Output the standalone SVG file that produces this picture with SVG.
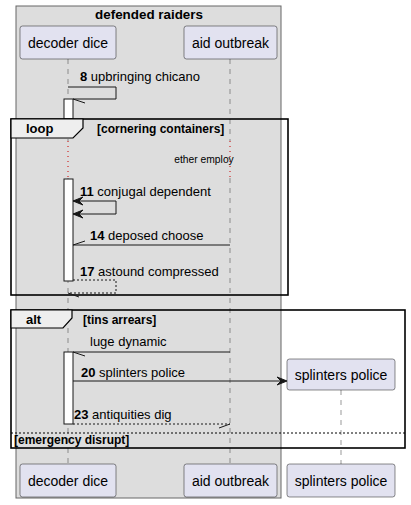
<svg xmlns="http://www.w3.org/2000/svg" width="411" height="505" viewBox="0 0 411 505">
<style>
text{font-family:"Liberation Sans",Arial,sans-serif;fill:#000}
.p rect{fill:#E2E2F0;stroke:#181818;stroke-width:0.5}
.p text{font-size:14px;text-anchor:middle}
.msg{font-size:13px}
.b{font-weight:bold}
.life{stroke:#555;stroke-width:0.6;stroke-dasharray:5,5;fill:none}
.delay{stroke:#C00;stroke-width:1;stroke-dasharray:1,4;fill:none}
.act{fill:#FFF;stroke:#181818;stroke-width:1}
.frame{fill:none;stroke:#000;stroke-width:1.6}
.tab{fill:#EEEEEE;stroke:#000;stroke-width:1.2}
.ln{stroke:#181818;stroke-width:1;fill:none}
.dash{stroke-dasharray:2,2}
.ah{fill:#181818;stroke:#181818;stroke-width:1}
.cond{font-size:12px;font-weight:bold}
</style>
<rect x="16" y="6" width="265" height="492" fill="#DDDDDD" stroke="#666" stroke-width="1"/>
<text x="149" y="19" font-size="13.4" font-weight="bold" text-anchor="middle">defended raiders</text>
<g id="lifelines">
<line class="life" x1="68" y1="59" x2="68" y2="141"/>
<line class="delay" x1="68" y1="141" x2="68" y2="178"/>
<line class="life" x1="68" y1="178" x2="68" y2="465"/>
<line class="life" x1="230" y1="59" x2="230" y2="141"/>
<line class="delay" x1="230" y1="141" x2="230" y2="178"/>
<line class="life" x1="230" y1="178" x2="230" y2="465"/>
<line class="life" x1="341" y1="390" x2="341" y2="465"/>
</g>
<g id="activations">
<rect class="act" x="64" y="99" width="9" height="20"/>
<rect class="act" x="64" y="179" width="9" height="102"/>
<rect class="act" x="64" y="352" width="9" height="72"/>
</g>
<g id="frames">
<rect class="frame" x="11" y="119" width="277" height="176"/>
<path class="tab" d="M11,119 H83 V128 L73,138 H11 Z"/>
<text x="26" y="133" font-size="13" class="b">loop</text>
<text x="97" y="133" class="cond">[cornering containers]</text>
<text x="204" y="163" font-size="10.3" text-anchor="middle">ether employ</text>
<rect class="frame" x="11" y="310" width="394" height="138"/>
<path class="tab" d="M11,310 H72 V318 L63,328 H11 Z"/>
<text x="26" y="324" font-size="13" class="b">alt</text>
<text x="83" y="324" class="cond">[tins arrears]</text>
<line x1="11" y1="433" x2="405" y2="433" stroke="#000" stroke-width="1" stroke-dasharray="2,2"/>
<text x="14" y="444" class="cond">[emergency disrupt]</text>
</g>
<g id="connectors">
<text class="msg" x="80" y="81"><tspan class="b">8</tspan> upbringing chicano</text>
<polyline class="ln" points="68,87 116,87 116,99 73,99"/>
<line class="ln" x1="73" y1="99" x2="85" y2="103"/>

<text class="msg" x="80" y="196"><tspan class="b">11</tspan> conjugal dependent</text>
<polyline class="ln" points="73,201 116,201 116,214 73,214"/>
<polygon class="ah" points="73,201 83,197 79,201 83,205"/>
<polygon class="ah" points="73,214 83,210 79,214 83,218"/>

<text class="msg" x="90" y="240"><tspan class="b">14</tspan> deposed choose</text>
<line class="ln" x1="230" y1="245" x2="73" y2="245"/>
<line class="ln" x1="73" y1="245" x2="85" y2="241"/>

<text class="msg" x="80" y="276"><tspan class="b">17</tspan> astound compressed</text>
<polyline class="ln dash" points="73,280 116,280 116,293 68,293"/>
<line class="ln" x1="68" y1="293" x2="79" y2="297"/>

<text class="msg" x="90" y="346">luge dynamic</text>
<line class="ln" x1="230" y1="352" x2="73" y2="352"/>
<line class="ln" x1="73" y1="352" x2="85" y2="356"/>

<text class="msg" x="81" y="377"><tspan class="b">20</tspan> splinters police</text>
<line class="ln" x1="73" y1="381" x2="285" y2="381"/>
<polygon class="ah" points="287,381 277,377 281,381 277,385"/>

<text class="msg" x="74" y="419"><tspan class="b">23</tspan> antiquities dig</text>
<line class="ln dash" x1="73" y1="424" x2="230" y2="424"/>
<line class="ln" x1="230" y1="424" x2="219" y2="428"/>
</g>
<g id="p-decoder-top" class="p"><rect x="20" y="26" width="96" height="33" rx="2.5"/><text x="68" y="48">decoder dice</text></g>
<g id="p-aid-top" class="p"><rect x="184" y="26" width="93" height="33" rx="2.5"/><text x="230.5" y="48">aid outbreak</text></g>
<g id="p-splinters-top" class="p"><rect x="287" y="359" width="108" height="31" rx="2.5"/><text x="341" y="380">splinters police</text></g>
<g id="p-decoder-bottom" class="p"><rect x="20" y="464" width="96" height="33" rx="2.5"/><text x="68" y="486">decoder dice</text></g>
<g id="p-aid-bottom" class="p"><rect x="184" y="464" width="93" height="33" rx="2.5"/><text x="230.5" y="486">aid outbreak</text></g>
<g id="p-splinters-bottom" class="p"><rect x="287" y="464" width="108" height="33" rx="2.5"/><text x="341" y="486">splinters police</text></g>
</svg>
